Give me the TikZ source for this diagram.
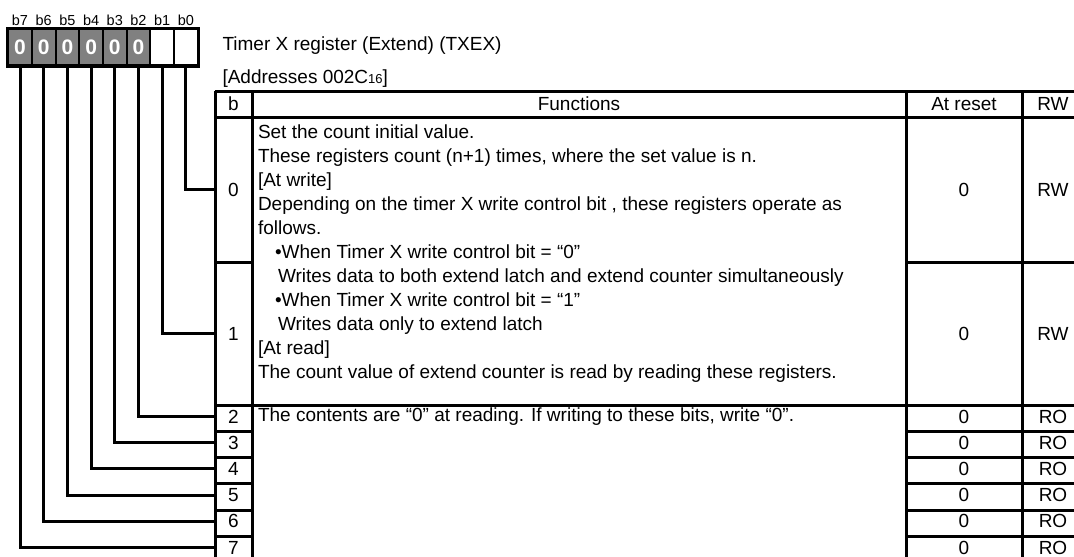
\documentclass[tikz,border=0pt]{standalone}
\usepackage{fontspec}
\setmainfont{Liberation Sans}
\usepackage{tikz}
\usetikzlibrary{positioning}
\definecolor{bitgray}{RGB}{128,128,128}

\begin{document}
\begin{tikzpicture}[x=1pt, y=-1pt, line width=3pt,
  bitbox/.style={draw, line width=2pt, minimum width=23.7pt, minimum height=36pt, inner sep=0pt},
  fixbit/.style={bitbox, fill=bitgray, text=white, font=\fontsize{21}{21}\selectfont\bfseries},
  bitlbl/.style={inner sep=0pt, font=\fontsize{14.5}{15}\selectfont},
  cell/.style={inner sep=0pt, font=\fontsize{19}{24}\selectfont},
  numcell/.style={cell, minimum width=37pt}]

% columns: 215 | 252 | 906 | 1022 | 1084 ; rows: 91, 117, 262, 405, then 26.3 each

\useasboundingbox (0,0) rectangle (1074,557);
\clip (0,0) rectangle (1074,557);

%% ── bit boxes ────────────────────────────────────────────────────
\foreach \k in {0,...,7}{
  \pgfmathsetmacro\bx{20+23.7*(7-\k)}
  \ifnum\k>1
    \node[fixbit] (bit\k) at (\bx,47) {0};
  \else
    \node[bitbox] (bit\k) at (\bx,47) {};
  \fi
  \node[bitlbl] (lbl\k) at (\bx,20) {b\k};
}
\draw (bit7.north west) rectangle (bit0.south east);

%% ── register name ────────────────────────────────────────────────
\node[cell, anchor=west] (title) at (221,46) {Timer X register (Extend) (TXEX)};
\node[cell, anchor=west] (addr) at (221,79) {[Addresses 002C{\fontsize{13}{13}\selectfont 16}]};

%% ── table grid ───────────────────────────────────────────────────
\foreach \x in {215,252,906,1022,1084} \draw (\x,91) -- (\x,570);
\foreach \y in {91,117,405} \draw (215,\y) -- (1090,\y);
\foreach \y in {262,431.3,457.6,483.9,510.2,536.5,562.8}{
  \draw (215,\y) -- (252,\y);
  \draw (906,\y) -- (1090,\y);
}

%% ── header ───────────────────────────────────────────────────────
\node[cell] (hb) at (233.5,104) {b};
\node[cell] (hfun) at (579,104) {Functions};
\node[cell] (hrst) at (964,104) {At reset};
\node[cell] (hrw) at (1053,104) {RW};

%% ── bit rows ─────────────────────────────────────────────────────
\node[numcell, minimum height=145pt] (r0) at (233.5,189.5) {0};
\node[numcell, minimum height=143pt] (r1) at (233.5,333.5) {1};
\node[cell] (rst0) at (964,189.5) {0};
\node[cell] (rw0) at (1053,189.5) {RW};
\node[cell] (rst1) at (964,333.5) {0};
\node[cell] (rw1) at (1053,333.5) {RW};
\foreach \k in {2,...,7}{
  \pgfmathsetmacro\ry{416.5+26.2*(\k-2)}
  \node[numcell, minimum height=24pt] (r\k) at (233.5,\ry) {\k};
  \node[cell] (rst\k) at (964,\ry) {0};
  \node[cell] (rw\k) at (1053,\ry) {RO};
}

%% ── function texts ───────────────────────────────────────────────
\node[cell, align=left, anchor=north west] (fn01) at (256.5,123) {%
Set the count initial value.\\
These registers count (n+1) times, where the set value is n.\\
{[At write]}\\
Depending on the timer X write control bit , these registers operate as\\
follows.\\
\hspace*{17pt}\textbullet When Timer X write control bit = “0”\\
\hspace*{20pt}Writes data to both extend latch and extend counter simultaneously\\
\hspace*{17pt}\textbullet When Timer X write control bit = “1”\\
\hspace*{20pt}Writes data only to extend latch\\
{[At read]}\\
The count value of extend counter is read by reading these registers.};
\node[cell, anchor=west] (fn2) at (256.5,416.5) {The contents are “0” at reading. If writing to these bits, write “0”.};

%% ── bit-to-row connectors ────────────────────────────────────────
\foreach \k in {0,...,7} \draw (bit\k.south) |- (r\k.west);

\end{tikzpicture}
\end{document}
